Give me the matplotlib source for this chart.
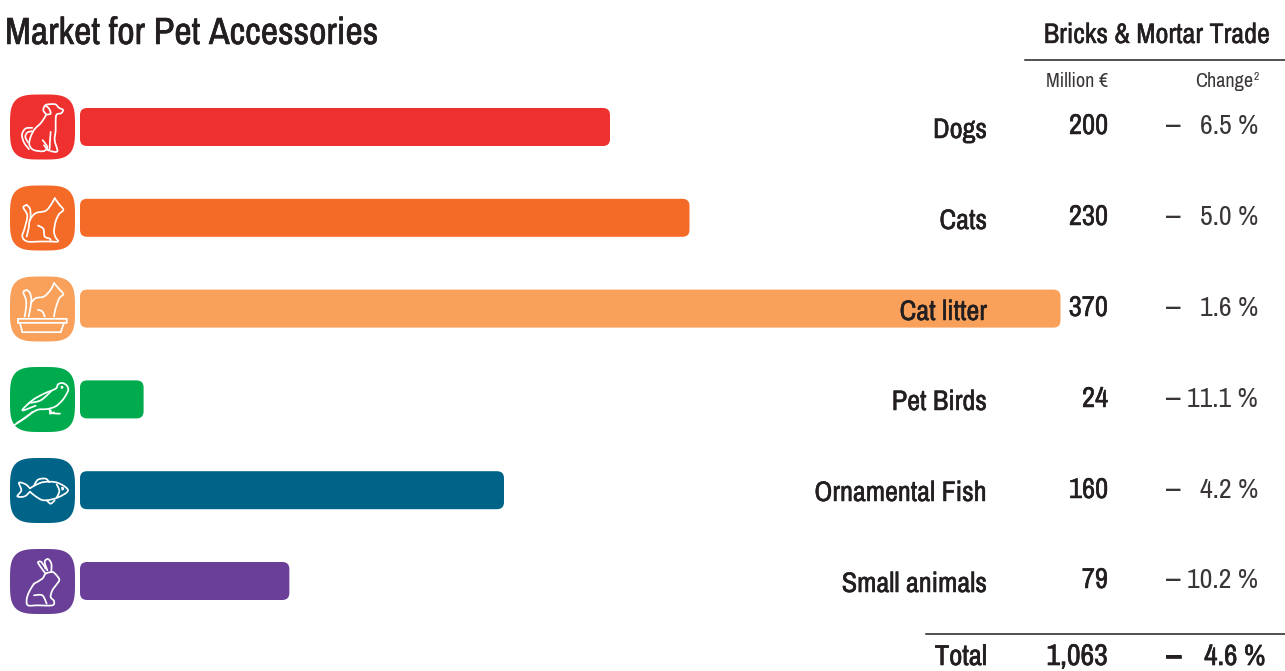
import numpy as np
import matplotlib
matplotlib.use('Agg')
import matplotlib.pyplot as plt
import matplotlib.patheffects as pe
from matplotlib.patches import FancyBboxPatch, PathPatch
from matplotlib.path import Path

categories = ['Dogs', 'Cats', 'Cat litter', 'Pet Birds', 'Ornamental Fish', 'Small animals']
market_values = [200, 230, 370, 24, 160, 79]
change_values = [6.5, 5.0, 1.6, 11.1, 4.2, 10.2]
total_value = '1,063'
total_change = 4.6
bar_colors = ['#EE312E', '#F46B28', '#F9A15B', '#00AB4E', '#006388', '#693F98']

W, H = 1285, 671
TXT = '#231F20'
plt.rcParams['font.family'] = ['Archivo Narrow', 'Roboto Condensed', 'DejaVu Sans']

fig = plt.figure(figsize=(W / 100, H / 100), dpi=100)

# data axes: bars
PX_PER_UNIT = 2.65
ROW0, ROWSTEP = 127.0, 90.8
ax = fig.add_axes([0, 0, 1, 1])
ax.set_xlim(-80 / PX_PER_UNIT, (W - 80) / PX_PER_UNIT)
ax.set_ylim((H - ROW0) / ROWSTEP, -ROW0 / ROWSTEP)
ax.axis('off')
bar_h = 38 / ROWSTEP
xr, yr = 7 / PX_PER_UNIT, 7 / ROWSTEP
for i, (v, c) in enumerate(zip(market_values, bar_colors)):
    ax.add_patch(FancyBboxPatch((0, i - bar_h / 2), v, bar_h,
                                boxstyle=f'round,pad=0,rounding_size={xr}',
                                mutation_aspect=yr / xr, fc=c, ec='none'))

# overlay in pixels: icons and table
ov = fig.add_axes([0, 0, 1, 1], facecolor='none')
ov.set_xlim(0, W)
ov.set_ylim(H, 0)
ov.axis('off')


def smooth(pts):
    pts = np.array(pts, float)
    p = np.vstack([pts[0], pts, pts[-1]])
    verts = [pts[0]]
    codes = [Path.MOVETO]
    for k in range(1, len(p) - 2):
        verts += [p[k] + (p[k + 1] - p[k - 1]) / 6,
                  p[k + 1] - (p[k + 2] - p[k]) / 6, p[k + 1]]
        codes += [Path.CURVE4] * 3
    return np.array(verts), codes


def icon_box(x0, y0, c, size=65.0, n=3.6):
    t = np.linspace(0, 2 * np.pi, 200)
    a = size / 2
    ct, st = np.cos(t), np.sin(t)
    ov.fill(x0 + a + a * np.sign(ct) * np.abs(ct) ** (2 / n),
            y0 + a + a * np.sign(st) * np.abs(st) ** (2 / n), fc=c, ec='none')


def icon_lines(strokes, zx0, zy0, x0, y0):
    for s in strokes:
        v, codes = smooth(s)
        v = (v - [zx0, zy0]) / 3 + [x0, y0]
        ov.add_patch(PathPatch(Path(v, codes), fc='none', ec='white', lw=1.25,
                               capstyle='round', joinstyle='round'))


dog = [
    [(137, 88), (122, 112), (102, 132), (90, 155), (86, 178), (98, 194), (128, 198), (140, 186), (126, 165)],
    [(130, 180), (145, 196), (148, 165), (150, 140)],
    [(137, 88), (128, 75), (134, 60), (150, 57), (165, 58), (175, 68), (187, 74), (182, 84), (168, 88), (165, 105),
     (165, 135), (162, 165), (170, 198), (150, 198)],
    [(135, 62), (145, 70), (150, 85), (140, 88)],
    [(95, 128), (75, 130), (64, 148), (70, 172), (85, 192)],
    [(94, 138), (80, 142), (74, 155), (82, 172)],
]
cat = [
    [(78, 360), (68, 368), (80, 392), (72, 430), (65, 455), (80, 470), (120, 470), (145, 470), (172, 470),
     (165, 458), (160, 440), (165, 410), (175, 388), (188, 375), (175, 358), (162, 340)],
    [(162, 340), (152, 358), (135, 378), (105, 385), (88, 405), (84, 430), (78, 455)],
    [(78, 360), (88, 372), (90, 395), (88, 405)],
    [(112, 422), (128, 432), (132, 455), (148, 462), (150, 470)],
]
litter = [
    [(78, 615), (68, 622), (76, 645), (76, 670), (72, 695)],
    [(78, 615), (88, 625), (92, 650), (84, 695)],
    [(160, 595), (150, 615), (130, 635), (105, 640), (90, 655)],
    [(160, 595), (175, 612), (188, 628), (176, 640), (165, 670), (160, 695)],
    [(112, 675), (125, 680), (132, 695)],
]
tray = [
    [(52, 702), (198, 702)],
    [(198, 702), (198, 714)],
    [(198, 714), (52, 714)],
    [(52, 714), (52, 702)],
    [(58, 714), (65, 742)],
    [(65, 742), (180, 742)],
    [(180, 742), (190, 714)],
]
bird = [
    [(40, 195), (62, 180), (90, 160), (112, 148), (140, 146), (165, 138), (185, 120), (197, 102), (203, 88), (198, 75),
     (185, 68), (172, 72), (165, 85), (130, 100), (95, 120), (65, 150), (105, 136)],
    [(50, 187), (75, 172), (95, 155)],
    [(85, 128), (120, 120), (152, 92)],
    [(145, 146), (155, 158), (178, 160)],
    [(150, 150), (148, 160), (160, 156)],
    [(183, 79), (186, 81), (183, 83), (183, 79)],
]
fish = [
    [(88, 384), (105, 374), (130, 365), (170, 367), (202, 390), (170, 412), (130, 420), (105, 408), (88, 394)],
    [(88, 384), (75, 372), (55, 367), (62, 390), (50, 408), (72, 408), (88, 394)],
    [(100, 376), (112, 358), (135, 355), (145, 365)],
    [(168, 372), (176, 392), (168, 412)],
    [(138, 420), (150, 430), (162, 420)],
    [(185, 382), (188, 385), (185, 388), (185, 382)],
]
rabbit = [
    [(100, 670), (85, 695), (78, 718), (82, 735), (110, 735), (155, 735), (160, 722), (150, 710), (155, 690), (168, 672),
     (176, 658), (165, 642), (155, 635), (135, 640), (125, 655), (100, 670)],
    [(135, 640), (120, 620), (112, 606), (122, 605), (135, 625)],
    [(140, 630), (132, 605), (142, 596), (152, 610), (152, 635)],
    [(100, 705), (125, 705), (138, 730)],
]
icons = [
    (dog, 28, 28), (cat, 28, 302), (litter + tray, 28, 575),
    (bird, 28, 20), (fish, 28, 293), (rabbit, 28, 566),
]
tops = [94.5, 185.5, 276.5, 367, 458, 549]
for (strokes, zx, zy), top, c in zip(icons, tops, bar_colors):
    icon_box(10, top, c)
    icon_lines(strokes, zx, zy, 10, top)


def text(x, y, s, size, ha='right', heavy=0.0, color=TXT):
    t = ov.text(x, y, s, fontsize=size, ha=ha, va='baseline', color=color)
    if heavy:
        t.set_path_effects([pe.withStroke(linewidth=heavy, foreground=color)])
    return t


# header
text(5, 44, 'Market for Pet Accessories', 27.3, ha='left', heavy=0.4)
text(1270, 43, 'Bricks & Mortar Trade', 20.3, heavy=0.3)
ov.plot([1025, 1285], [60, 60], color=TXT, lw=1.1)
text(1108, 87, 'Million €', 14.5, color='#3A3637')
text(1253, 87, 'Change', 14.5, color='#3A3637')
text(1259, 80, '2', 8.5, color='#3A3637')

# rows
val_rows = [134, 225, 316, 407, 498, 588]
lab_rows = [138, 229, 320, 410, 501, 592]
for name, v, ch, yv, yl in zip(categories, market_values, change_values, val_rows, lab_rows):
    text(987, yl, name, 20.3, heavy=0.35)
    text(1108, yv, str(v), 20.6, heavy=0.35)
    text(1166, yv, '–', 23, ha='left', color='#3A3637')
    text(1258, yv, f'{ch:.1f} %', 20, color='#3A3637')

# total
ov.plot([926, 1285], [634, 634], color=TXT, lw=1.1)
text(987, 665, 'Total', 20.6, heavy=0.45)
text(1108, 665, total_value, 21.5, heavy=0.45)
text(1166, 665, '–', 23, ha='left', heavy=0.5)
text(1265, 665, f'{total_change:.1f} %', 21, heavy=0.45)

fig.savefig('out.png', dpi=100)
